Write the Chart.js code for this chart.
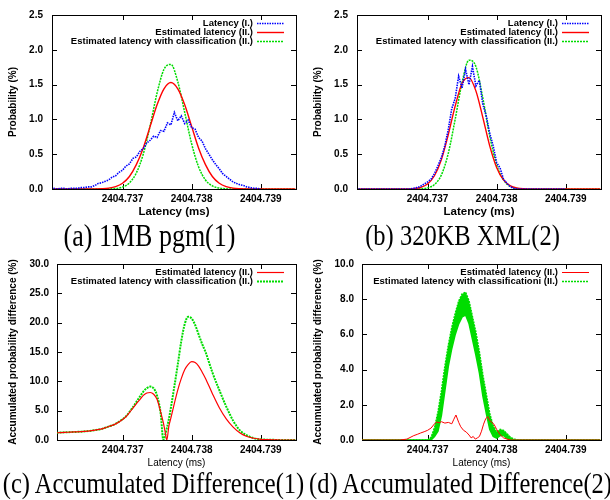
<!DOCTYPE html>
<html>
<head>
<meta charset="utf-8">
<script src="https://cdn.jsdelivr.net/npm/chart.js@4.4.1/dist/chart.umd.min.js"></script>
<style>
  body { margin: 0; background: #fff; }
  #wrap { position: relative; width: 610px; height: 500px; overflow: hidden; }
  canvas { position: absolute; }
  .cap {
    position: absolute; width: 305px; height: 28px; line-height: 28px;
    text-align: center; white-space: nowrap; color: #000;
    font: 24.5px "Liberation Serif", "Times New Roman", serif;
    transform: scaleY(1.2);
  }
</style>
</head>
<body>
<div id="wrap">
  <canvas id="chartA" width="305" height="220" style="left:0;top:0"></canvas>
  <canvas id="chartB" width="305" height="220" style="left:305px;top:0"></canvas>
  <canvas id="chartC" width="305" height="220" style="left:0;top:250px"></canvas>
  <canvas id="chartD" width="305" height="220" style="left:305px;top:250px"></canvas>
  <div class="cap" style="left:-3px;top:221px;font-size:26px">(a) 1MB pgm(1)</div>
  <div class="cap" style="left:310px;top:221px">(b) 320KB XML(2)</div>
  <div class="cap" style="left:1px;top:469px">(c) Accumulated Difference(1)</div>
  <div class="cap" style="left:308px;top:469px">(d) Accumulated Difference(2)</div>
</div>
<script>
// tick labels
const xTicks = [2404.737, 2404.738, 2404.739];
const probTicks = [0, 0.5, 1.0, 1.5, 2.0, 2.5];
const diffTicksC = [0, 5, 10, 15, 20, 25, 30];
const diffTicksD = [0, 2, 4, 6, 8, 10];

// latency grid, 0.0001 ms
const xCoarse = [
  2404.7360, 2404.7361, 2404.7362, 2404.7363, 2404.7364, 2404.7365, 2404.7366, 2404.7367, 2404.7368, 2404.7369,
  2404.7370, 2404.7371, 2404.7372, 2404.7373, 2404.7374, 2404.7375, 2404.7376, 2404.7377, 2404.7378, 2404.7379,
  2404.7380, 2404.7381, 2404.7382, 2404.7383, 2404.7384, 2404.7385, 2404.7386, 2404.7387, 2404.7388, 2404.7389,
  2404.7390, 2404.7391, 2404.7392, 2404.7393, 2404.7394, 2404.7395
];
// latency grid, 0.00005 ms (measured histogram)
const xFine = [
  2404.736, 2404.73605, 2404.7361, 2404.73615, 2404.7362, 2404.73625, 2404.7363, 2404.73635, 2404.7364, 2404.73645,
  2404.7365, 2404.73655, 2404.7366, 2404.73665, 2404.7367, 2404.73675, 2404.7368, 2404.73685, 2404.7369, 2404.73695,
  2404.737, 2404.73705, 2404.7371, 2404.73715, 2404.7372, 2404.73725, 2404.7373, 2404.73735, 2404.7374, 2404.73745,
  2404.7375, 2404.73755, 2404.7376, 2404.73765, 2404.7377, 2404.73775, 2404.7378, 2404.73785, 2404.7379, 2404.73795,
  2404.738, 2404.73805, 2404.7381, 2404.73815, 2404.7382, 2404.73825, 2404.7383, 2404.73835, 2404.7384, 2404.73845,
  2404.7385, 2404.73855, 2404.7386, 2404.73865, 2404.7387, 2404.73875, 2404.7388, 2404.73885, 2404.7389, 2404.73895,
  2404.739
];

// (a) 1MB pgm
const latA = [
  0.01, 0.00, 0.01, 0.01, 0.00, 0.01, 0.01, 0.01, 0.02, 0.02,
  0.03, 0.03, 0.05, 0.08, 0.09, 0.11, 0.13, 0.17, 0.19, 0.24,
  0.27, 0.33, 0.36, 0.44, 0.46, 0.54, 0.58, 0.66, 0.70, 0.76,
  0.74, 0.84, 0.83, 0.95, 0.92, 1.10, 0.98, 1.05, 0.94, 0.99,
  0.88, 0.86, 0.74, 0.69, 0.58, 0.50, 0.42, 0.35, 0.29, 0.22,
  0.18, 0.14, 0.10, 0.08, 0.06, 0.05, 0.03, 0.02, 0.01, 0.01,
  0.00
];
const estA = [
  0, 0, 0, 0, 0, 0, 0.001, 0.004, 0.012, 0.034,
  0.083, 0.18, 0.35, 0.59, 0.90, 1.21, 1.44, 1.53, 1.44, 1.21,
  0.90, 0.59, 0.35, 0.18, 0.083, 0.034, 0.012, 0.004, 0.001, 0,
  0, 0, 0, 0, 0, 0
];
const classA = [
  0, 0, 0, 0, 0, 0, 0, 0, 0.003, 0.007,
  0.028, 0.088, 0.23, 0.50, 0.91, 1.38, 1.72, 1.79, 1.54, 1.10,
  0.65, 0.32, 0.13, 0.045, 0.013, 0.003, 0, 0, 0, 0,
  0, 0, 0, 0, 0, 0
];

// (b) 320KB XML
const latB = [
  0, 0, 0, 0, 0, 0, 0, 0, 0, 0,
  0, 0, 0, 0, 0, 0, 0.01, 0.02, 0.04, 0.07,
  0.10, 0.14, 0.22, 0.33, 0.45, 0.62, 0.85, 1.15, 1.30, 1.62,
  1.45, 1.72, 1.50, 1.76, 1.48, 1.56, 1.22, 1.05, 0.80, 0.62,
  0.38, 0.30, 0.14, 0.08, 0.03, 0.01, 0, 0, 0, 0,
  0, 0, 0, 0, 0, 0, 0, 0, 0, 0,
  0
];
const estB = [
  0, 0, 0, 0, 0, 0, 0, 0.001, 0.006, 0.022,
  0.071, 0.19, 0.42, 0.78, 1.19, 1.52, 1.60, 1.41, 1.03, 0.62,
  0.31, 0.13, 0.045, 0.013, 0.003, 0, 0, 0, 0, 0,
  0, 0, 0, 0, 0, 0
];
const classB = [
  0, 0, 0, 0, 0, 0, 0, 0, 0, 0.003,
  0.016, 0.064, 0.20, 0.51, 1.00, 1.53, 1.85, 1.76, 1.31, 0.76,
  0.35, 0.13, 0.035, 0.008, 0.001, 0, 0, 0, 0, 0,
  0, 0, 0, 0, 0, 0
];

// (c) accumulated difference 1
const xC = [
  2404.7360, 2404.7361, 2404.7362, 2404.7363, 2404.7364, 2404.7365, 2404.7366, 2404.7367, 2404.7368, 2404.7369,
  2404.7370, 2404.73705, 2404.7371, 2404.73715, 2404.7372, 2404.73725, 2404.7373, 2404.73735, 2404.7374, 2404.73745,
  2404.7375, 2404.73755, 2404.73759, 2404.73762, 2404.73764, 2404.73767, 2404.7377, 2404.73775, 2404.7378, 2404.73785,
  2404.7379, 2404.73795, 2404.7380, 2404.73805, 2404.7381, 2404.73815, 2404.7382, 2404.7383, 2404.7384, 2404.7385,
  2404.7386, 2404.7387, 2404.7388, 2404.7389, 2404.7390, 2404.7391, 2404.7392, 2404.7393, 2404.7394, 2404.7395
];
const estC = [
  1.20, 1.27, 1.32, 1.37, 1.42, 1.52, 1.68, 1.90, 2.30, 2.75,
  3.50, 4.00, 4.70, 5.45, 6.20, 6.90, 7.60, 8.00, 8.10, 7.80,
  6.90, 4.80, 2.90, 1.10, 0.00, 2.40, 3.80, 6.30, 8.60, 10.50,
  12.00, 12.90, 13.35, 13.20, 12.60, 11.60, 10.50, 7.90, 5.50, 3.60,
  2.20, 1.20, 0.60, 0.30, 0.12, 0.05, 0.02, 0, 0, 0
];
const classC = [
  1.20, 1.27, 1.32, 1.37, 1.42, 1.52, 1.68, 1.90, 2.30, 2.78,
  3.55, 4.05, 4.80, 5.60, 6.50, 7.40, 8.25, 8.85, 9.10, 8.80,
  7.50, 4.60, 0.00, 1.00, 2.00, 3.60, 5.60, 9.20, 13.00, 16.90,
  19.80, 21.00, 20.70, 19.60, 18.00, 16.40, 15.00, 11.50, 8.50, 5.70,
  3.30, 1.60, 0.80, 0.30, 0.12, 0.05, 0.02, 0, 0, 0
];

// (d) accumulated difference 2
const xD = [
  2404.7360, 2404.7365, 2404.7369,
  2404.7370, 2404.73705, 2404.7371, 2404.73715, 2404.7372, 2404.73725, 2404.7373, 2404.73735, 2404.7374,
  2404.73745, 2404.7375, 2404.73755, 2404.7376, 2404.73765, 2404.7377, 2404.73775, 2404.7378, 2404.73785,
  2404.7379, 2404.73795, 2404.7380, 2404.73805, 2404.7381, 2404.73815, 2404.7382, 2404.73825, 2404.7383,
  2404.7385, 2404.7390, 2404.7395
];
const classDHigh = [
  0, 0, 0,
  0, 0.15, 0.7, 1.6, 2.8, 4.2, 5.4, 6.4, 7.2,
  7.9, 8.3, 8.4, 7.9, 7.0, 6.1, 5.0, 3.7, 2.6,
  1.5, 0.8, 0.45, 0.6, 0.55, 0.35, 0.15, 0.05, 0,
  0, 0, 0
];
const classDLow = [
  0, 0, 0,
  0, 0, 0.2, 0.5, 1.4, 2.8, 4.2, 5.2, 6.0,
  6.6, 7.0, 7.1, 6.6, 5.7, 4.8, 3.8, 2.5, 1.5,
  0.6, 0.2, 0.1, 0.25, 0.25, 0.1, 0, 0, 0,
  0, 0, 0
];
const xDRed = [
  2404.7360, 2404.7365, 2404.7366, 2404.7367, 2404.7368, 2404.73685, 2404.7369, 2404.73695, 2404.7370, 2404.73705,
  2404.7371, 2404.73713, 2404.73717, 2404.7372, 2404.73725, 2404.7373, 2404.73735, 2404.73738, 2404.73741, 2404.73745,
  2404.73748, 2404.73752, 2404.73756, 2404.7376, 2404.73763, 2404.73766, 2404.73769, 2404.73772, 2404.73775, 2404.73778,
  2404.73781, 2404.73784, 2404.73787, 2404.7379, 2404.73793, 2404.73796, 2404.7380, 2404.73805, 2404.7381, 2404.73815,
  2404.7382, 2404.7383, 2404.7395
];
const estD = [
  0, 0, 0, 0.05, 0.25, 0.32, 0.40, 0.47, 0.55, 0.68,
  0.92, 1.02, 0.98, 1.04, 0.96, 1.00, 0.92, 1.18, 1.42, 1.00,
  0.75, 0.55, 0.45, 0.28, 0.12, 0.20, 0.05, 0.12, 0.20, 0.50,
  0.90, 1.20, 1.33, 1.10, 1.00, 0.90, 0.60, 0.30, 0.12, 0.05,
  0, 0, 0
];

const BLUE = 'rgb(0,0,255)';
const RED = 'rgb(255,0,0)';
const GREEN = 'rgb(0,220,0)';

Chart.defaults.font.family = '"Liberation Sans", Arial, sans-serif';
Chart.defaults.color = '#000';

function pairs(xs, ys) {
  return xs.map((x, i) => ({ x: x, y: ys[i] }));
}

// gnuplot style box with inward tics
const frame = {
  id: 'frame',
  beforeDatasetsDraw(chart) {
    const { ctx, chartArea: { top, bottom, left, right }, scales: { x, y } } = chart;
    ctx.save();
    ctx.strokeStyle = '#000';
    ctx.lineWidth = 1;
    ctx.strokeRect(left + 0.5, top + 0.5, right - left, bottom - top);
    ctx.beginPath();
    x.ticks.forEach(t => {
      const px = Math.round(x.getPixelForValue(t.value)) + 0.5;
      ctx.moveTo(px, bottom); ctx.lineTo(px, bottom - 5);
      ctx.moveTo(px, top); ctx.lineTo(px, top + 5);
    });
    y.ticks.forEach(t => {
      const py = Math.round(y.getPixelForValue(t.value)) + 0.5;
      ctx.moveTo(left, py); ctx.lineTo(left + 5, py);
      ctx.moveTo(right, py); ctx.lineTo(right - 5, py);
    });
    ctx.stroke();
    ctx.restore();
  }
};

// key in the top right corner: text right aligned, sample after it
const keyBox = {
  id: 'keyBox',
  afterDatasetsDraw(chart) {
    const { ctx, chartArea: { top, right } } = chart;
    ctx.save();
    ctx.font = 'bold 9.5px "Liberation Sans", Arial, sans-serif';
    ctx.textAlign = 'right';
    ctx.textBaseline = 'middle';
    let row = 0;
    chart.data.datasets.forEach(ds => {
      if (!ds.label) return;
      const yy = Math.round(top + 8 + row * 9.2) + 0.5;
      ctx.fillStyle = '#000';
      ctx.fillText(ds.label, right - 43, yy);
      ctx.strokeStyle = ds.borderColor;
      ctx.lineWidth = ds.borderWidth;
      ctx.setLineDash(ds.borderDash || []);
      ctx.beginPath();
      ctx.moveTo(right - 39, yy);
      ctx.lineTo(right - 12, yy);
      ctx.stroke();
      row++;
    });
    ctx.restore();
  }
};

function makeChart(id, datasets, o) {
  return new Chart(document.getElementById(id), {
    type: 'line',
    data: { datasets: datasets },
    options: {
      responsive: false,
      animation: false,
      layout: { padding: { left: 0, right: 9, top: 14, bottom: 1 } },
      elements: { point: { radius: 0 } },
      plugins: { legend: { display: false }, tooltip: { enabled: false } },
      scales: {
        x: {
          type: 'linear',
          min: o.xMin,
          max: 2404.73951,
          grid: { display: false, drawTicks: false },
          border: { display: false },
          afterBuildTicks: s => { s.ticks = xTicks.map(v => ({ value: v })); },
          afterFit: s => { s.height = o.xHeight; },
          ticks: {
            padding: 4, autoSkip: false, maxRotation: 0,
            font: { size: 10, weight: 'bold' },
            callback: v => v.toFixed(3)
          },
          title: {
            display: true, text: 'Latency (ms)', font: o.xTitleFont,
            padding: { top: 0, bottom: 0 }
          }
        },
        y: {
          min: 0,
          max: o.yMax,
          grid: { display: false, drawTicks: false },
          border: { display: false },
          afterBuildTicks: s => { s.ticks = o.yTicks.map(v => ({ value: v })); },
          afterFit: s => { s.width = o.yWidth; },
          ticks: {
            padding: o.yPad,
            font: { size: 10, weight: 'bold' },
            callback: v => v.toFixed(1)
          },
          title: {
            display: true, text: o.yTitle, font: { size: 10, weight: 'bold' },
            padding: { top: 7, bottom: 0 }
          }
        }
      }
    },
    plugins: [frame, keyBox]
  });
}

const probOpts = {
  xMin: 2404.73598, xHeight: 30, xTitleFont: { size: 11.5, weight: 'bold' },
  yMax: 2.5, yTicks: probTicks, yWidth: 52, yPad: 9, yTitle: 'Probability (%)'
};

makeChart('chartA', [
  { label: 'Latency (I.)', data: pairs(xFine, latA), borderColor: BLUE, borderWidth: 1.6, borderDash: [1.5, 1], tension: 0 },
  { label: 'Estimated latency (II.)', data: pairs(xCoarse, estA), borderColor: RED, borderWidth: 1.4, cubicInterpolationMode: 'monotone' },
  { label: 'Estimated latency with classification (II.)', data: pairs(xCoarse, classA), borderColor: GREEN, borderWidth: 1.5, borderDash: [2, 1], cubicInterpolationMode: 'monotone' }
], probOpts);

makeChart('chartB', [
  { label: 'Latency (I.)', data: pairs(xFine, latB), borderColor: BLUE, borderWidth: 1.6, borderDash: [1.5, 1], tension: 0 },
  { label: 'Estimated latency (II.)', data: pairs(xCoarse, estB), borderColor: RED, borderWidth: 1.4, cubicInterpolationMode: 'monotone' },
  { label: 'Estimated latency with classification (II.)', data: pairs(xCoarse, classB), borderColor: GREEN, borderWidth: 1.5, borderDash: [2, 1], cubicInterpolationMode: 'monotone' }
], probOpts);

makeChart('chartC', [
  { label: 'Estimated latency (II.)', data: pairs(xC, estC), borderColor: RED, borderWidth: 1.2, cubicInterpolationMode: 'monotone' },
  { label: 'Estimated latency with classification (II.)', data: pairs(xC, classC), borderColor: GREEN, borderWidth: 2, borderDash: [2, 1], cubicInterpolationMode: 'monotone' }
], {
  xMin: 2404.73605, xHeight: 29, xTitleFont: { size: 10 },
  yMax: 30, yTicks: diffTicksC, yWidth: 57, yPad: 8, yTitle: 'Accumulated probability difference (%)'
});

makeChart('chartD', [
  { label: 'Estimated latency (II.)', data: pairs(xDRed, estD), borderColor: RED, borderWidth: 1, tension: 0 },
  { label: 'Estimated latency with classificationi (II.)', data: pairs(xD, classDHigh), borderColor: GREEN, borderWidth: 1.5, borderDash: [2, 1], tension: 0, fill: '+1', backgroundColor: GREEN },
  { label: '', data: pairs(xD, classDLow), borderColor: GREEN, borderWidth: 1.5, tension: 0, fill: false }
], {
  xMin: 2404.73605, xHeight: 29, xTitleFont: { size: 10 },
  yMax: 10, yTicks: diffTicksD, yWidth: 57, yPad: 8, yTitle: 'Accumulated probability difference (%)'
});
</script>
</body>
</html>
